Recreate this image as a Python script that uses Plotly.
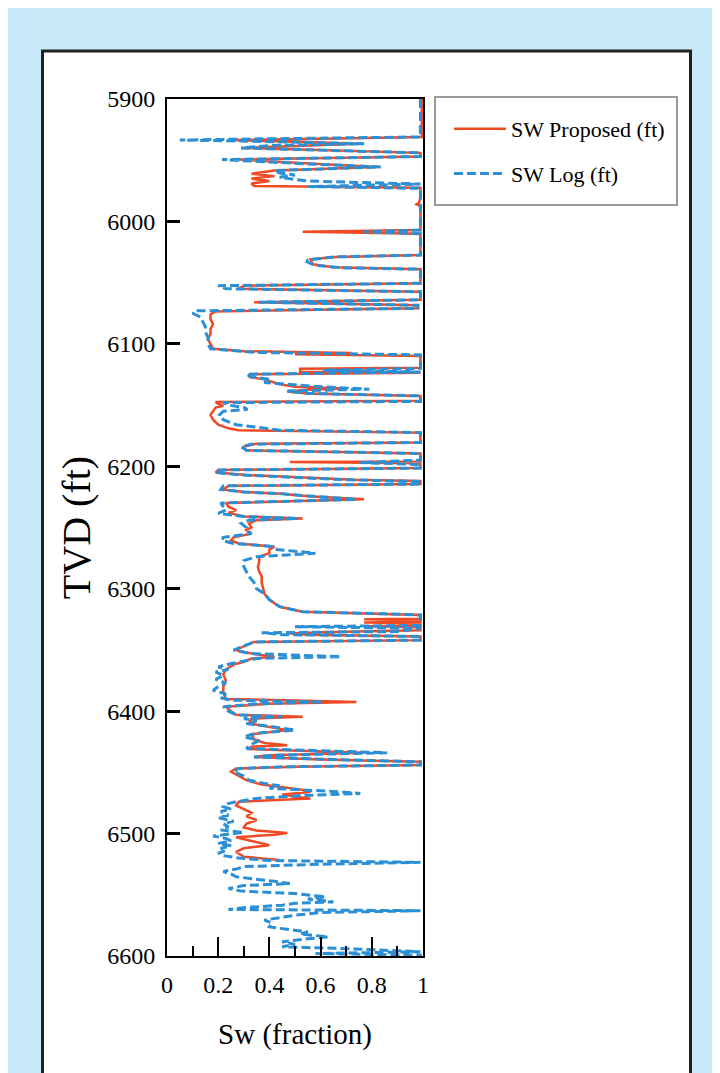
import plotly.graph_objects as go

# ---------------- data ----------------
prop_depth = [5900, 5931, 5932.5, 5933.5, 5935, 5936.5, 5940, 5944, 5947, 5949.5, 5952, 5955.5,
              5958.5, 5961, 5963, 5965, 5967, 5969, 5971, 5972.5, 5980, 5984.5, 5986, 5987.5, 6007,
              6008.5, 6010, 6027.5, 6029, 6031, 6035, 6037.5, 6039, 6050.5, 6052.5, 6055, 6057.5,
              6064, 6066, 6068.5, 6071, 6073.5, 6076, 6080, 6084, 6088, 6092, 6096, 6100, 6104,
              6106, 6107.5, 6108.5, 6110, 6119.5, 6120.3, 6122.7, 6123.5, 6124.8, 6127, 6129,
              6131.5, 6133, 6135, 6136.5, 6137.5, 6139, 6140.5, 6142.5, 6146.5, 6147.5, 6149,
              6150.5, 6152, 6155, 6158, 6162, 6166, 6169, 6170.5, 6172.5, 6180.5, 6181.5, 6184,
              6187, 6189.5, 6196, 6196.5, 6197.5, 6201.5, 6203, 6205, 6207, 6209, 6211, 6212,
              6214.5, 6216, 6219, 6221, 6222.5, 6224.5, 6227, 6230, 6233, 6235.8, 6238, 6241,
              6242.6, 6244, 6246.7, 6250, 6252, 6255, 6258, 6260.5, 6263, 6265.7, 6268, 6271,
              6273.9, 6278, 6282, 6286, 6290, 6295, 6300, 6304, 6309, 6314.7, 6318.8, 6320.5,
              6321.5, 6324.5, 6325, 6325.8, 6327, 6327.5, 6328.3, 6330, 6330.6, 6331.5, 6334,
              6335.5, 6336.5, 6337.5, 6339, 6342, 6343.5, 6347, 6350.2, 6353, 6355.5, 6357,
              6359.7, 6362, 6366, 6370, 6375, 6380, 6385, 6390, 6392.5, 6394, 6396.4, 6400, 6403,
              6404.6, 6406, 6410, 6413, 6415.5, 6419, 6423, 6426, 6427.8, 6429, 6431, 6434, 6436,
              6437.5, 6439.5, 6441.4, 6444, 6445.5, 6446.8, 6449.5, 6453, 6456.4, 6460, 6462,
              6464, 6466, 6468, 6470, 6471.3, 6474, 6477, 6480, 6483, 6486, 6489, 6492, 6495,
              6497.5, 6499.5, 6501, 6503, 6506, 6509.5, 6512, 6515, 6519, 6521.5]
prop_sw = [0.995, 0.995, 0.6, 0.24, 0.5, 0.75, 0.29, 0.99, 0.99, 0.28, 0.5, 0.82,
           0.42, 0.33, 0.42, 0.33, 0.40, 0.33, 0.34, 0.99, 0.99, 0.985, 0.975, 0.99, 0.99,
           0.53, 0.99, 0.99, 0.66, 0.56, 0.57, 0.65, 0.99, 0.99, 0.30, 0.28, 0.99,
           0.99, 0.34, 0.98, 0.98, 0.19, 0.17, 0.17, 0.18, 0.17, 0.17, 0.16, 0.17, 0.18,
           0.30, 0.72, 0.5, 0.99, 0.99, 0.52, 0.52, 0.99, 0.33, 0.32, 0.38,
           0.42, 0.44, 0.50, 0.70, 0.55, 0.47, 0.55, 0.99, 0.99, 0.19, 0.20,
           0.22, 0.19, 0.18, 0.17, 0.18, 0.20, 0.24, 0.28, 0.99, 0.99, 0.35, 0.30,
           0.31, 0.99, 0.99, 0.48, 0.99, 0.99, 0.20, 0.19, 0.30, 0.50, 0.73, 0.99,
           0.99, 0.24, 0.22, 0.30, 0.45, 0.55, 0.77, 0.23, 0.24, 0.27, 0.24, 0.30,
           0.53, 0.35, 0.32, 0.33, 0.31, 0.33, 0.26, 0.25, 0.28, 0.42, 0.40, 0.40,
           0.36, 0.36, 0.355, 0.36, 0.37, 0.37, 0.375, 0.38, 0.40, 0.44, 0.53, 0.80,
           0.99, 0.99, 0.77, 0.99, 0.99, 0.77, 0.99, 0.99, 0.77, 0.99, 0.99,
           0.60, 0.48, 0.55, 0.99, 0.99, 0.34, 0.30, 0.27, 0.33, 0.42, 0.33,
           0.30, 0.26, 0.23, 0.22, 0.23, 0.22, 0.22, 0.23, 0.74, 0.40, 0.23, 0.25, 0.27,
           0.53, 0.33, 0.32, 0.40, 0.47, 0.33, 0.34, 0.38, 0.47, 0.33, 0.32, 0.77, 0.40,
           0.34, 0.60, 0.99, 0.99, 0.50, 0.27, 0.25, 0.28, 0.31, 0.37, 0.45,
           0.52, 0.56, 0.45, 0.50, 0.56, 0.28, 0.27, 0.30, 0.33, 0.31, 0.35, 0.31, 0.30,
           0.35, 0.47, 0.42, 0.27, 0.33, 0.40, 0.30, 0.27, 0.30, 0.44]

log_depth = [5900, 5931, 5932.5, 5933.5, 5935, 5936.5, 5938, 5940, 5944, 5947, 5949.5, 5951,
             5953, 5955.5, 5958.5, 5960.5, 5962, 5964, 5967, 5969.5, 5971.5, 5973, 6007, 6008.5,
             6010, 6027.5, 6029, 6031.5, 6033, 6036, 6038, 6039, 6050.5, 6052.5, 6055, 6057.5,
             6064, 6066, 6068.5, 6071, 6073, 6075, 6078, 6082, 6086, 6090, 6095, 6100, 6104,
             6107, 6109, 6120, 6121.5, 6123, 6124.8, 6127, 6129, 6131.5, 6133.5, 6135, 6137,
             6138.5, 6140.5, 6142.5, 6147, 6148, 6150, 6152, 6153.5, 6155, 6158, 6162, 6166,
             6168.5, 6170.5, 6172.5, 6180.5, 6182, 6184, 6187, 6189.5, 6195, 6197, 6198.5,
             6201.5, 6203, 6205, 6207, 6209, 6211, 6212.5, 6214.5, 6216, 6219, 6221, 6222.5,
             6224.5, 6227, 6230, 6233, 6235.8, 6238.5, 6241, 6242.6, 6244, 6246.7, 6250, 6252,
             6255, 6258, 6260.5, 6263, 6265.7, 6268, 6271, 6273.9, 6277, 6282, 6286, 6290,
             6295, 6300, 6304, 6309, 6314.7, 6318.8, 6320.5, 6321.5, 6330, 6331, 6332.5, 6335,
             6336, 6337.5, 6339, 6342, 6343.5, 6347, 6350.2, 6353, 6355.5, 6357, 6359.7, 6362,
             6364, 6366, 6368, 6371, 6374, 6377, 6380, 6383, 6386, 6389, 6391, 6392.5, 6394,
             6396.4, 6400, 6403, 6404.6, 6406, 6408, 6410, 6413, 6415.5, 6418, 6421, 6424,
             6427, 6430.5, 6434, 6436, 6437.5, 6439.5, 6441.4, 6444, 6445.5, 6446.8, 6449.5,
             6453, 6456.4, 6459, 6461, 6463, 6465.9, 6467.3, 6469, 6471.3, 6474, 6476, 6478,
             6480, 6482, 6485, 6487, 6490, 6492, 6494.5, 6497, 6499, 6500.5, 6502, 6504, 6506,
             6508, 6510, 6512, 6514, 6516, 6518, 6520, 6522, 6523.5, 6525, 6527, 6529, 6531,
             6533, 6535.3, 6537, 6539, 6540.8, 6542.5, 6544.9, 6547, 6549, 6551.7, 6553.5,
             6555.8, 6557, 6558.5, 6560.5, 6562, 6563, 6564.5, 6566.7, 6568.5, 6570.7, 6573,
             6576.2, 6578, 6580.3, 6582, 6584.4, 6586, 6588.4, 6590.5, 6592.5, 6594, 6595.2,
             6596.5, 6598, 6599.3, 6600]
log_sw = [0.99, 0.99, 0.40, 0.05, 0.45, 0.77, 0.40, 0.29, 0.99, 0.99, 0.215, 0.35,
          0.55, 0.835, 0.42, 0.44, 0.50, 0.44, 0.55, 0.99, 0.55, 0.99, 0.99, 0.77,
          0.99, 0.99, 0.65, 0.55, 0.547, 0.58, 0.70, 0.99, 0.99, 0.20, 0.23, 0.99,
          0.99, 0.36, 0.98, 0.98, 0.12, 0.10, 0.13, 0.14, 0.15, 0.15, 0.16, 0.16, 0.17,
          0.35, 0.99, 0.99, 0.61, 0.99, 0.31, 0.33, 0.40, 0.38, 0.52, 0.60, 0.79,
          0.47, 0.55, 0.99, 0.99, 0.22, 0.24, 0.30, 0.315, 0.22, 0.205, 0.22, 0.27,
          0.37, 0.44, 0.99, 0.99, 0.33, 0.29, 0.31, 0.99, 0.99, 0.75, 0.99,
          0.99, 0.20, 0.19, 0.28, 0.50, 0.70, 0.99, 0.99, 0.22, 0.21, 0.30, 0.45,
          0.57, 0.74, 0.21, 0.22, 0.23, 0.20, 0.30, 0.51, 0.32, 0.29, 0.31, 0.31,
          0.33, 0.22, 0.215, 0.26, 0.42, 0.43, 0.58, 0.35, 0.30, 0.30, 0.31, 0.32,
          0.34, 0.35, 0.38, 0.40, 0.44, 0.53, 0.85, 0.99, 0.99, 0.50, 0.99, 0.90,
          0.37, 0.45, 0.99, 0.99, 0.34, 0.30, 0.26, 0.33, 0.68, 0.35, 0.28, 0.23,
          0.20, 0.24, 0.19, 0.22, 0.19, 0.23, 0.20, 0.18, 0.23, 0.21, 0.25, 0.61, 0.35,
          0.22, 0.24, 0.27, 0.45, 0.30, 0.35, 0.31, 0.42, 0.50, 0.35, 0.30, 0.36,
          0.33, 0.31, 0.86, 0.42, 0.34, 0.65, 0.99, 0.99, 0.45, 0.28, 0.26,
          0.30, 0.32, 0.38, 0.44, 0.40, 0.68, 0.755, 0.52, 0.35, 0.27, 0.23, 0.22,
          0.25, 0.21, 0.24, 0.20, 0.26, 0.22, 0.24, 0.21, 0.30, 0.24, 0.18, 0.23, 0.25,
          0.20, 0.25, 0.21, 0.23, 0.20, 0.22, 0.28, 0.40, 0.99, 0.60, 0.30, 0.27, 0.22,
          0.25, 0.27, 0.35, 0.42, 0.48, 0.30, 0.24, 0.29, 0.50, 0.62, 0.55,
          0.65, 0.50, 0.45, 0.30, 0.24, 0.99, 0.60, 0.50, 0.45, 0.38, 0.41,
          0.40, 0.46, 0.55, 0.52, 0.63, 0.55, 0.45, 0.50, 0.45, 0.70, 0.88,
          0.99, 0.58, 0.99, 0.99]

x_ticks = [0, 0.2, 0.4, 0.6, 0.8, 1]
x_tick_text = ["0", "0.2", "0.4", "0.6", "0.8", "1"]
y_ticks = [5900, 6000, 6100, 6200, 6300, 6400, 6500, 6600]
y_tick_text = ["5900", "6000", "6100", "6200", "6300", "6400", "6500", "6600"]

# ---------------- figure ----------------
OFF = 8                      # page body margin
W, H = 712, 1065
L, T = 167 - OFF, 99 - OFF   # plot area left / top (figure coords)
PW, PH = 256, 857
R = W - L - PW
B = H - T - PH


def px(xp):                  # page pixel -> paper x
    return (xp - OFF - L) / PW


def py(yp):                  # page pixel -> paper y
    return (T + PH - (yp - OFF)) / PH


SERIF = "Liberation Serif, Times New Roman, serif"
ORANGE = "#f04a24"
BLUE = "#2b8fd6"

fig = go.Figure()
fig.add_trace(go.Scatter(x=prop_sw, y=prop_depth, mode="lines", name="SW Proposed (ft)",
                         line=dict(color=ORANGE, width=2.5), legendgroup="a"))
fig.add_trace(go.Scatter(x=log_sw, y=log_depth, mode="lines", name="SW Log (ft)",
                         line=dict(color=BLUE, width=3, dash="9px,4px"), legendgroup="b"))

shapes = [
    dict(type="rect", xref="paper", yref="paper", layer="below",
         x0=px(42.5), x1=px(690.5), y0=py(1100), y1=py(51),
         fillcolor="white", line=dict(color="#222222", width=3)),
    dict(type="rect", xref="paper", yref="paper", layer="above",
         x0=px(435), x1=px(677), y0=py(205), y1=py(97),
         fillcolor="rgba(0,0,0,0)", line=dict(color="#9a9a9a", width=2)),
]

fig.update_layout(
    width=W, height=H,
    margin=dict(l=L, r=R, t=T, b=B, autoexpand=False),
    paper_bgcolor="#c7e9f8", plot_bgcolor="white",
    font=dict(family=SERIF, color="black", size=24),
    shapes=shapes,
    showlegend=True,
    legend=dict(x=px(449), y=py(108), xanchor="left", yanchor="top",
                bgcolor="rgba(0,0,0,0)", borderwidth=0,
                font=dict(family=SERIF, size=22, color="black"),
                traceorder="grouped", tracegroupgap=13, itemwidth=52),
    xaxis=dict(range=[0, 1], tickmode="array", tickvals=x_ticks, ticktext=x_tick_text,
               ticks="inside", ticklen=19, tickwidth=2, tickcolor="black",
               minor=dict(dtick=0.1, tick0=0, ticks="inside", ticklen=10, tickwidth=2, tickcolor="black"),
               showline=True, linecolor="black", linewidth=2, mirror=True,
               showgrid=False, zeroline=False, ticklabelstandoff=6,
               tickfont=dict(family=SERIF, size=24),
               title=dict(text="Sw (fraction)", font=dict(family=SERIF, size=29), standoff=27)),
    yaxis=dict(range=[6600, 5900], tickmode="array", tickvals=y_ticks, ticktext=y_tick_text,
               ticks="inside", ticklen=13, tickwidth=3, tickcolor="black",
               showline=True, linecolor="black", linewidth=2, mirror=True,
               showgrid=False, zeroline=False, ticklabelstandoff=5,
               tickfont=dict(family=SERIF, size=24),
               title=dict(text="TVD (ft)", font=dict(family=SERIF, size=40), standoff=4)),
)

fig.write_html("out.html")
